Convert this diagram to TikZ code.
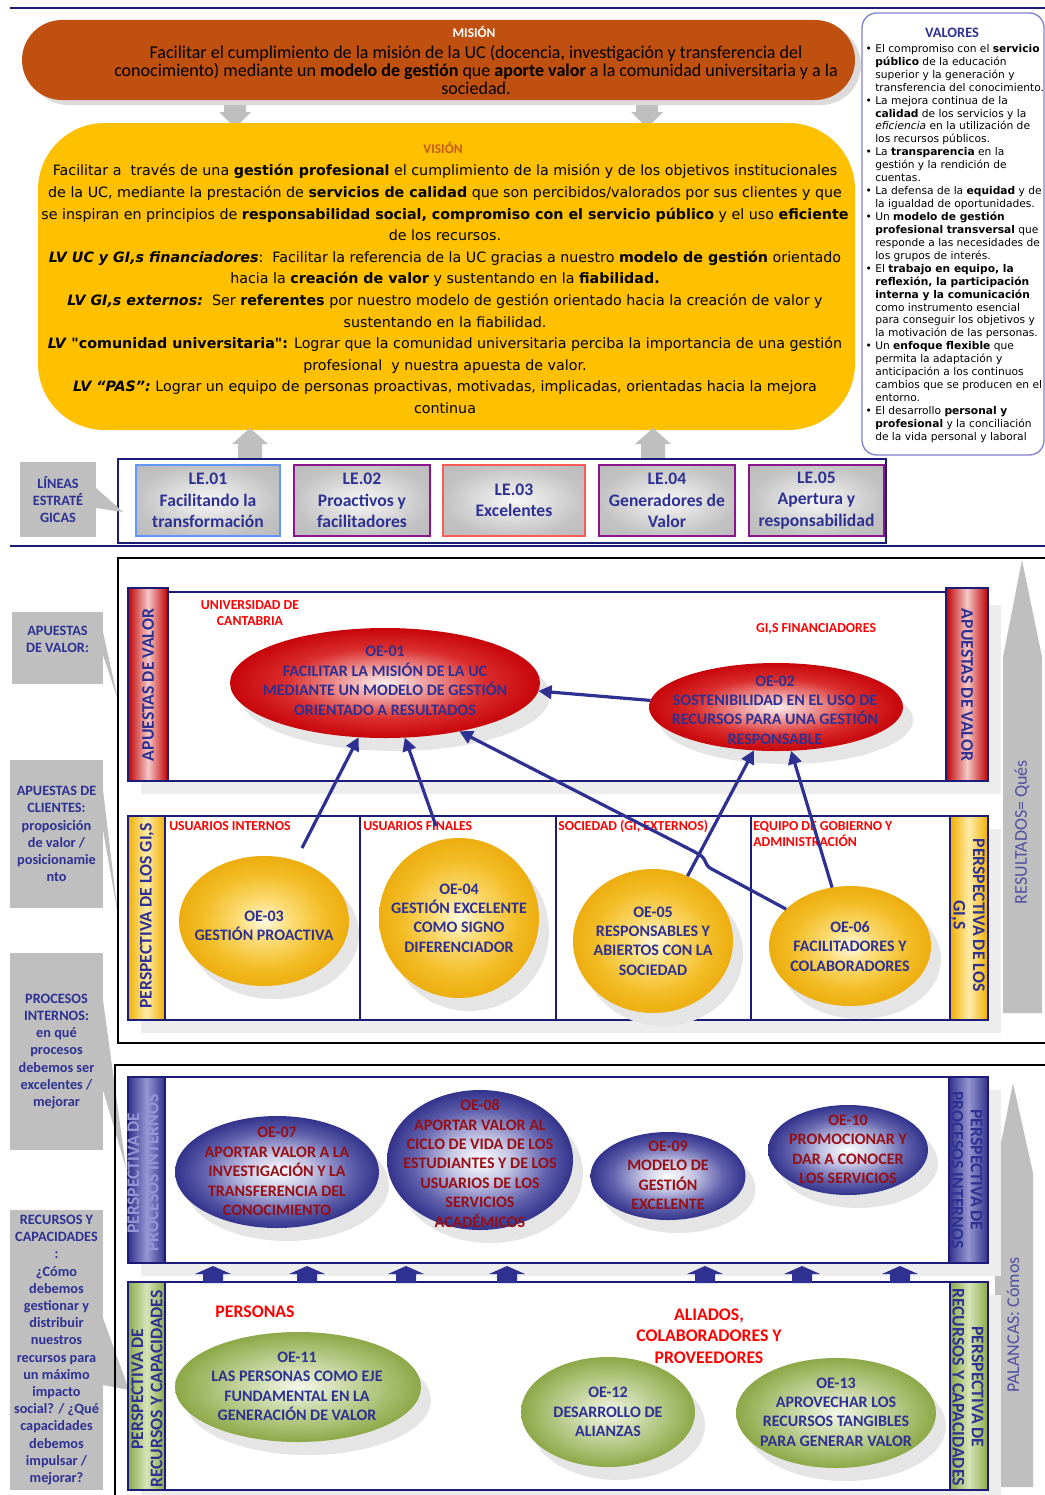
\documentclass[tikz,border=0pt]{standalone}
\usepackage{fontspec}
\setmainfont{Carlito}
\newfontfamily\verd{DejaVu Sans}
\usetikzlibrary{shapes.geometric,arrows.meta}

\definecolor{navyT}{RGB}{46,49,146}
\definecolor{navyL}{RGB}{28,28,120}
\definecolor{misfill}{RGB}{192,80,16}
\definecolor{visfill}{RGB}{255,192,0}
\definecolor{visT}{RGB}{197,90,17}
\definecolor{callgrey}{RGB}{191,191,191}
\definecolor{redT}{RGB}{255,0,0}
\definecolor{dredT}{RGB}{150,15,20}
\definecolor{valB}{RGB}{130,130,210}
\definecolor{leA}{RGB}{100,150,255}
\definecolor{leB}{RGB}{140,20,140}
\definecolor{leC}{RGB}{255,90,90}
\definecolor{paleT}{RGB}{150,150,215}
\definecolor{arrT}{RGB}{80,80,160}
\definecolor{bRed}{RGB}{192,0,0}
\definecolor{bRedL}{RGB}{245,200,200}
\definecolor{bGold}{RGB}{240,176,0}
\definecolor{bGoldL}{RGB}{255,235,170}
\definecolor{bBlue}{RGB}{50,50,140}
\definecolor{bBlueL}{RGB}{150,150,210}
\definecolor{bGreen}{RGB}{140,170,75}
\definecolor{bGreenL}{RGB}{215,228,185}

\pgfdeclareradialshading{ballred}{\pgfpoint{0bp}{0bp}}{rgb(0bp)=(0.99,0.94,0.94); rgb(6bp)=(0.95,0.66,0.66); rgb(16bp)=(0.86,0.18,0.18); rgb(25bp)=(0.78,0.02,0.04); rgb(50bp)=(0.78,0.02,0.04)}
\pgfdeclareradialshading{ballgold}{\pgfpoint{0bp}{0bp}}{rgb(0bp)=(1,0.98,0.88); rgb(8bp)=(0.99,0.86,0.45); rgb(18bp)=(0.95,0.74,0.15); rgb(25bp)=(0.93,0.68,0.06); rgb(50bp)=(0.93,0.68,0.06)}
\pgfdeclareradialshading{ballblue}{\pgfpoint{0bp}{0bp}}{rgb(0bp)=(1,1,1); rgb(8bp)=(0.78,0.78,0.9); rgb(18bp)=(0.38,0.38,0.68); rgb(25bp)=(0.2,0.2,0.55); rgb(50bp)=(0.2,0.2,0.55)}
\pgfdeclareradialshading{ballgreen}{\pgfpoint{0bp}{0bp}}{rgb(0bp)=(0.96,0.97,0.92); rgb(8bp)=(0.82,0.87,0.7); rgb(18bp)=(0.66,0.75,0.45); rgb(25bp)=(0.55,0.66,0.28); rgb(50bp)=(0.55,0.66,0.28)}
\pgfdeclareradialshading{legrey}{\pgfpoint{0bp}{0bp}}{rgb(0bp)=(0.97,0.97,0.97); rgb(25bp)=(0.76,0.76,0.76); rgb(50bp)=(0.7,0.7,0.7)}

\tikzset{
 oebase/.style={ellipse, inner sep=0pt, outer sep=0pt},
 oered/.style={oebase, shade, shading=ballred},
 oegold/.style={oebase, shade, shading=ballgold},
 oeblue/.style={oebase, shade, shading=ballblue},
 oegreen/.style={oebase, shade, shading=ballgreen},
 oeshadow/.style={oebase, fill=black!10},
 oetxt/.style={font=\fontsize{12}{14.6}\selectfont\bfseries, text=navyT, align=center, inner sep=0pt},
 oetxtr/.style={oetxt, text=dredT},
 redlbl/.style={font=\fontsize{10.3}{12}\selectfont\bfseries, text=redT, align=left, inner sep=0pt},
 redbig/.style={font=\fontsize{13.3}{16}\selectfont\bfseries, text=redT, align=center, inner sep=0pt},
 rowbox/.style={draw=navyL, line width=1.8pt, fill=white},
 rowshadow/.style={fill=black!7},
 bandbox/.style={draw=navyL, line width=1.8pt},
 bandred/.style={bandbox, left color=bRed, right color=bRed, middle color=bRedL},
 bandgold/.style={bandbox, left color=bGold, right color=bGold, middle color=bGoldL},
 bandblue/.style={bandbox, left color=bBlue, right color=bBlue, middle color=bBlueL},
 bandgreen/.style={bandbox, left color=bGreen, right color=bGreen, middle color=bGreenL},
 bandtxt/.style={font=\fontsize{13.3}{14.6}\selectfont\bfseries, text=navyT, align=center, inner sep=0pt},
 callbox/.style={fill=callgrey, inner sep=0pt, font=\fontsize{10.7}{12.9}\selectfont\bfseries, text=navyT, align=center, minimum width=69.75pt},
 calltxt/.style={font=\fontsize{10.7}{12.9}\selectfont\bfseries, text=navyT, align=center, inner sep=0pt},
 lebox/.style={shade, shading=legrey, line width=2.2pt, inner sep=0pt, minimum height=53.25pt, font=\fontsize{13.2}{16.1}\selectfont\bfseries, text=navyT, align=center},
 arr/.style={draw=navyT, line width=2.4pt, -{Triangle[length=10pt,width=10pt]}},
 blackbox/.style={draw=black, line width=2.2pt},
 greyarrow/.style={fill=callgrey},
 navyblock/.style={fill=navyT},
 sidetxt/.style={font=\fontsize{13.5}{15}\selectfont, text=arrT, inner sep=0pt},
}

\newcommand\oeell[6]{%
 \node[oeshadow, minimum width=#5, minimum height=#6] (#1s) at ({#3+10},{#4+13}) {};
 \node[#2, minimum width=#5, minimum height=#6] (#1) at (#3,#4) {};
}
\newcommand\blk[1]{\fill[navyblock] ({#1-10},1283) -- ({#1-10},1274) -- ({#1-18},1274) -- (#1,1266) -- ({#1+18},1274) -- ({#1+10},1274) -- ({#1+10},1283) -- cycle;}
\newcommand\bul{\llap{•\hspace{2.5pt}}}

\begin{document}
\begin{tikzpicture}[x=0.75pt,y=-0.75pt]
\useasboundingbox (0,0) rectangle (1045,1495);
\fill[white] (0,0) rectangle (1045,1495);

% rules
\draw[navyL, line width=1pt] (10,8) -- (1045,8);
\draw[navyL, line width=1.3pt] (10,546) -- (1045,546);

% grey arrows mission -> vision
\foreach \cx in {235,647}{
 \fill[greyarrow] ({\cx-11},100) -- ({\cx+11},100) -- ({\cx+11},112) -- ({\cx+16},112) -- (\cx,128) -- ({\cx-16},112) -- ({\cx-11},112) -- cycle;
}

% mission
\node[fill=black!14, rounded corners=30pt, minimum width=624.75pt, minimum height=60pt, inner sep=0pt] (misS) at (444.5,65) {};
\node[fill=misfill, rounded corners=30pt, minimum width=624.75pt, minimum height=60pt, inner sep=0pt] (mision) at (438.5,60) {};
\node[font=\fontsize{10}{12}\selectfont\bfseries, text=white, inner sep=0pt] (misT) at (474,32) {MISIÓN};
\node[font=\fontsize{13.5}{13.5}\selectfont, align=center, inner sep=0pt] (misX) at (476,70) {Facilitar el cumplimiento de la misión de la UC (docencia, investigación y transferencia del\\conocimiento) mediante un \textbf{modelo de gestión} que \textbf{aporte valor} a la comunidad universitaria y a la\\sociedad.};

% vision
\node[fill=visfill, rounded corners=50pt, minimum width=612.75pt, minimum height=230.25pt, inner sep=0pt] (vision) at (446.5,276.5) {};
\node[font=\fontsize{10}{12}\selectfont\bfseries, text=visT, inner sep=0pt] (visT) at (443,148) {VISIÓN};
\node[font=\verd\fontsize{10.7}{16.2}\selectfont, align=center, inner sep=0pt] (visX) at (445,289) {%
Facilitar a\ \ través de una \textbf{gestión profesional} el cumplimiento de la misión y de los objetivos institucionales\\
de la UC, mediante la prestación de \textbf{servicios de calidad} que son percibidos/valorados por sus clientes y que\\
se inspiran en principios de \textbf{responsabilidad social, compromiso con el servicio público} y el uso \textbf{eficiente}\\
de los recursos.\\
\textbf{\textit{LV UC y GI,s financiadores}}:\ \ Facilitar la referencia de la UC gracias a nuestro \textbf{modelo de gestión} orientado\\
hacia la \textbf{creación de valor} y sustentando en la \textbf{fiabilidad.}\\
\textbf{\textit{LV GI,s externos:}}\ \ Ser \textbf{referentes} por nuestro modelo de gestión orientado hacia la creación de valor y\\
sustentando en la fiabilidad.\\
\textbf{\textit{LV}} \textbf{"comunidad universitaria":} Lograr que la comunidad universitaria perciba la importancia de una gestión\\
profesional\ \ y nuestra apuesta de valor.\\
\textbf{\textit{LV “PAS”:}} Lograr un equipo de personas proactivas, motivadas, implicadas, orientadas hacia la mejora\\
continua};

% grey arrows LE -> vision
\foreach \cx in {250,653}{
 \fill[greyarrow] ({\cx-12},459) -- ({\cx-12},444) -- ({\cx-18},444) -- (\cx,428) -- ({\cx+18},444) -- ({\cx+12},444) -- ({\cx+12},459) -- cycle;
}

% valores
\node[draw=valB, line width=1pt, fill=white, rounded corners=11pt, minimum width=136.5pt, minimum height=331.5pt, inner sep=0pt] (valbox) at (953,234) {};
\node[font=\fontsize{10.8}{12}\selectfont\bfseries, text=navyT, inner sep=0pt] (valT) at (952,33) {VALORES};
\node[font=\verd\fontsize{8}{9.7}\selectfont, align=left, inner sep=0pt, anchor=north west] (valX) at (875,44) {%
\bul El compromiso con el \textbf{servicio}\\
\textbf{público} de la educación\\
superior y la generación y\\
transferencia del conocimiento.\\
\bul La mejora continua de la\\
\textbf{calidad} de los servicios y la\\
\textit{eficiencia} en la utilización de\\
los recursos públicos.\\
\bul La \textbf{transparencia} en la\\
gestión y la rendición de\\
cuentas.\\
\bul La defensa de la \textbf{equidad} y de\\
la igualdad de oportunidades.\\
\bul Un \textbf{modelo de gestión}\\
\textbf{profesional transversal} que\\
responde a las necesidades de\\
los grupos de interés.\\
\bul El \textbf{trabajo en equipo, la}\\
\textbf{reflexión, la participación}\\
\textbf{interna y la comunicación}\\
como instrumento esencial\\
para conseguir los objetivos y\\
la motivación de las personas.\\
\bul Un \textbf{enfoque flexible} que\\
permita la adaptación y\\
anticipación a los continuos\\
cambios que se producen en el\\
entorno.\\
\bul El desarrollo \textbf{personal y}\\
\textbf{profesional} y la conciliación\\
de la vida personal y laboral};

% lineas estrategicas
\node[draw=navyL, line width=1.5pt, minimum width=576pt, minimum height=63pt, inner sep=0pt] (leouter) at (502,501) {};
\node[lebox, draw=leA, minimum width=108pt] (le1) at (208,500.5) {LE.01\\Facilitando la\\transformación};
\node[lebox, draw=leB, minimum width=102pt] (le2) at (362,500.5) {LE.02\\Proactivos y\\facilitadores};
\node[lebox, draw=leC, minimum width=106.5pt] (le3) at (514,500.5) {LE.03\\Excelentes};
\node[lebox, draw=leB, minimum width=102pt] (le4) at (667,500.5) {LE.04\\Generadores de\\Valor};
\node[lebox, draw=leB, minimum width=101.25pt] (le5) at (816.5,500.5) {LE.05\\Apertura y\\responsabilidad};

\fill[callgrey] (96,488) -- (123,512) -- (96,508) -- cycle;
\node[callbox, minimum width=57pt, minimum height=56.25pt] (cbL) at (58,499.5) {LÍNEAS\\ESTRATÉ\\GICAS};

% left callouts
\fill[callgrey] (103,632) -- (118,700) -- (103,655) -- cycle;
\node[callbox, minimum width=68.25pt, minimum height=54pt] (cb1) at (57.5,648) {};
\node[calltxt] (cb1t) at (57.5,639.5) {APUESTAS\\DE VALOR:};
\fill[callgrey] (103,790) -- (118,915) -- (103,830) -- cycle;
\node[callbox, minimum height=111pt] (cb2) at (56.5,834) {APUESTAS DE\\CLIENTES:\\proposición\\de valor /\\posicionamie\\nto};
\fill[callgrey] (103,1000) -- (126,1168) -- (103,1090) -- cycle;
\node[callbox, minimum height=147.75pt] (cb3) at (56.5,1051.5) {PROCESOS\\INTERNOS:\\en qué\\procesos\\debemos ser\\excelentes /\\mejorar};
\fill[callgrey] (103,1318) -- (129,1390) -- (103,1385) -- cycle;
\node[callbox, minimum height=210pt] (cb4) at (56.5,1350) {RECURSOS Y\\CAPACIDADES\\:\\¿Cómo\\debemos\\gestionar y\\distribuir\\nuestros\\recursos para\\un máximo\\impacto\\social? / ¿Qué\\capacidades\\debemos\\impulsar /\\mejorar?};

% black frames
\draw[blackbox] (1047,558) -- (118,558) -- (118,1043) -- (1047,1043);
\draw[blackbox] (1047,1065) -- (115,1065) -- (115,1500);

% grey side arrows
\fill[greyarrow] (1003,1013) -- (1003,657) -- (1022,560) -- (1042,657) -- (1042,1013) -- cycle;
\node[sidetxt, rotate=90] (resT) at (1022,832) {RESULTADOS= Qués};
\fill[greyarrow] (995,1487) -- (995,1173) -- (1013,1083) -- (1033,1173) -- (1033,1487) -- cycle;
\node[sidetxt, rotate=90] (palT) at (1013,1325) {PALANCAS: Cómos};

% row shadows
\fill[rowshadow] (141,605) rectangle (1001,794);
\fill[rowshadow] (141,829) rectangle (1001,1033);
\fill[rowshadow] (141,1090) rectangle (1001,1276);
\fill[rowshadow] (141,1295) rectangle (1001,1503);

% rows
\draw[rowbox] (128,592) rectangle (988,781);
\draw[rowbox] (128,816) rectangle (988,1020);
\draw[navyL, line width=1.8pt] (360,816) -- (360,1020) (556,816) -- (556,1020) (751,816) -- (751,1020);
\draw[rowbox] (128,1077) rectangle (988,1263);
\draw[rowbox] (128,1282) rectangle (988,1490);

% bands
\draw[bandred] (128,588) rectangle (168,781);
\draw[bandred] (946,588) rectangle (988,781);
\node[bandtxt, rotate=90] (b1l) at (148,685) {APUESTAS DE VALOR};
\node[bandtxt, rotate=-90] (b1r) at (967,685) {APUESTAS DE VALOR};
\draw[bandgold] (128,816) rectangle (165,1020);
\draw[bandgold] (950,816) rectangle (988,1020);
\node[bandtxt, rotate=90] (b2l) at (147,916) {PERSPECTIVA DE LOS GI,S};
\node[bandtxt, rotate=-90] (b2r) at (968,915) {PERSPECTIVA DE LOS\\GI,S};
\draw[bandblue] (128,1077) rectangle (165,1263);
\draw[bandblue] (949,1077) rectangle (988,1263);
\node[bandtxt, rotate=90, text=paleT] (b3l) at (143,1173) {PERSPECTIVA DE\\PROCESOS INTERNOS};
\node[bandtxt, rotate=-90] (b3r) at (967,1170) {PERSPECTIVA DE\\PROCESOS INTERNOS};
\draw[bandgreen] (128,1282) rectangle (165,1490);
\draw[bandgreen] (950,1282) rectangle (988,1490);
\node[bandtxt, rotate=90] (b4l) at (147,1389) {PERSPECTIVA DE\\RECURSOS Y CAPACIDADES};
\node[bandtxt, rotate=-90] (b4r) at (968,1387) {PERSPECTIVA DE\\RECURSOS Y CAPACIDADES};

% small navy block arrows
\blk{213}\blk{307}\blk{406}\blk{507}\blk{705}\blk{802}\blk{900}

% red labels
\node[redlbl, align=center] (l1) at (250,613) {UNIVERSIDAD DE\\CANTABRIA};
\node[redlbl] (l2) at (816,629) {GI,S FINANCIADORES};
\node[redlbl, anchor=west] (l3) at (169,826) {USUARIOS INTERNOS};
\node[redlbl, anchor=west] (l4) at (363,826) {USUARIOS FINALES};
\node[redlbl, anchor=west] (l5) at (558,826) {SOCIEDAD (GI, EXTERNOS)};
\node[redlbl, anchor=west] (l6) at (753,834.5) {EQUIPO DE GOBIERNO Y\\ADMINISTRACIÓN};
\node[redbig] (l7) at (255,1312) {PERSONAS};
\node[redbig] (l8) at (709,1336) {ALIADOS,\\COLABORADORES Y\\PROVEEDORES};

% ellipses
\oeell{oe1}{oered}{385}{683}{232.5pt}{82.5pt}
\oeell{oe2}{oered}{776}{707}{190.5pt}{66pt}
\oeell{oe3}{oegold}{264}{921}{127.5pt}{97.5pt}
\oeell{oe4}{oegold}{459}{918}{120pt}{120pt}
\oeell{oe5}{oegold}{653}{941}{120pt}{108pt}
\oeell{oe6}{oegold}{850}{946}{121.5pt}{90pt}
\oeell{oe7}{oeblue}{277}{1172}{153pt}{84pt}
\oeell{oe8}{oeblue}{480}{1160}{139.5pt}{105pt}
\oeell{oe9}{oeblue}{668}{1176}{116.25pt}{66pt}
\oeell{oe10}{oeblue}{848}{1150}{120pt}{67.5pt}
\oeell{oe11}{oegreen}{298}{1387}{184.5pt}{82.5pt}
\oeell{oe12}{oegreen}{608}{1412}{130.5pt}{82.5pt}
\oeell{oe13}{oegreen}{836}{1413}{150pt}{82.5pt}

\node[oetxt] (t1) at (385,681) {OE-01\\FACILITAR LA MISIÓN DE LA UC\\MEDIANTE UN MODELO DE GESTIÓN\\ORIENTADO A RESULTADOS};
\node[oetxt] (t2) at (775,710) {OE-02\\SOSTENIBILIDAD EN EL USO DE\\RECURSOS PARA UNA GESTIÓN\\RESPONSABLE};
\node[oetxt] (t3) at (264,926) {OE-03\\GESTIÓN PROACTIVA};
\node[oetxt] (t4) at (459,918) {OE-04\\GESTIÓN EXCELENTE\\COMO SIGNO\\DIFERENCIADOR};
\node[oetxt] (t5) at (653,941) {OE-05\\RESPONSABLES Y\\ABIERTOS CON LA\\SOCIEDAD};
\node[oetxt] (t6) at (850,946.5) {OE-06\\FACILITADORES Y\\COLABORADORES};
\node[oetxtr] (t7) at (277,1171.5) {OE-07\\APORTAR VALOR A LA\\INVESTIGACIÓN Y LA\\TRANSFERENCIA DEL\\CONOCIMIENTO};
\node[oetxtr] (t8) at (480,1163.5) {OE-08\\APORTAR VALOR AL\\CICLO DE VIDA DE LOS\\ESTUDIANTES Y DE LOS\\USUARIOS DE LOS\\SERVICIOS\\ACADÉMICOS};
\node[oetxtr] (t9) at (668,1175.5) {OE-09\\MODELO DE\\GESTIÓN\\EXCELENTE};
\node[oetxtr] (t10) at (848,1149.5) {OE-10\\PROMOCIONAR Y\\DAR A CONOCER\\LOS SERVICIOS};
\node[oetxt] (t11) at (297,1386.5) {OE-11\\LAS PERSONAS COMO EJE\\FUNDAMENTAL EN LA\\GENERACIÓN DE VALOR};
\node[oetxt] (t12) at (608,1412) {OE-12\\DESARROLLO DE\\ALIANZAS};
\node[oetxt] (t13) at (836,1412) {OE-13\\APROVECHAR LOS\\RECURSOS TANGIBLES\\PARA GENERAR VALOR};

% connectors
\coordinate (a1s) at (302,848);
\coordinate (a2s) at (436,826);
\coordinate (hopA) at (708,867);
\coordinate (hopB) at (703,857);
\coordinate (hopC) at (695,852);
\draw[arr] (a1s) -- (oe1.244);
\draw[arr] (a2s) -- (oe1.290);
\draw[arr] (oe2.177) -- (oe1.357);
\draw[arr] (oe5.62) -- (oe2.243);
\draw[arr] (oe6.107) -- (oe2.289);
\draw[arr, rounded corners=2pt] (oe6.150) -- (hopA) -- (hopB) -- (hopC) -- (oe1.327);
\end{tikzpicture}
\end{document}
